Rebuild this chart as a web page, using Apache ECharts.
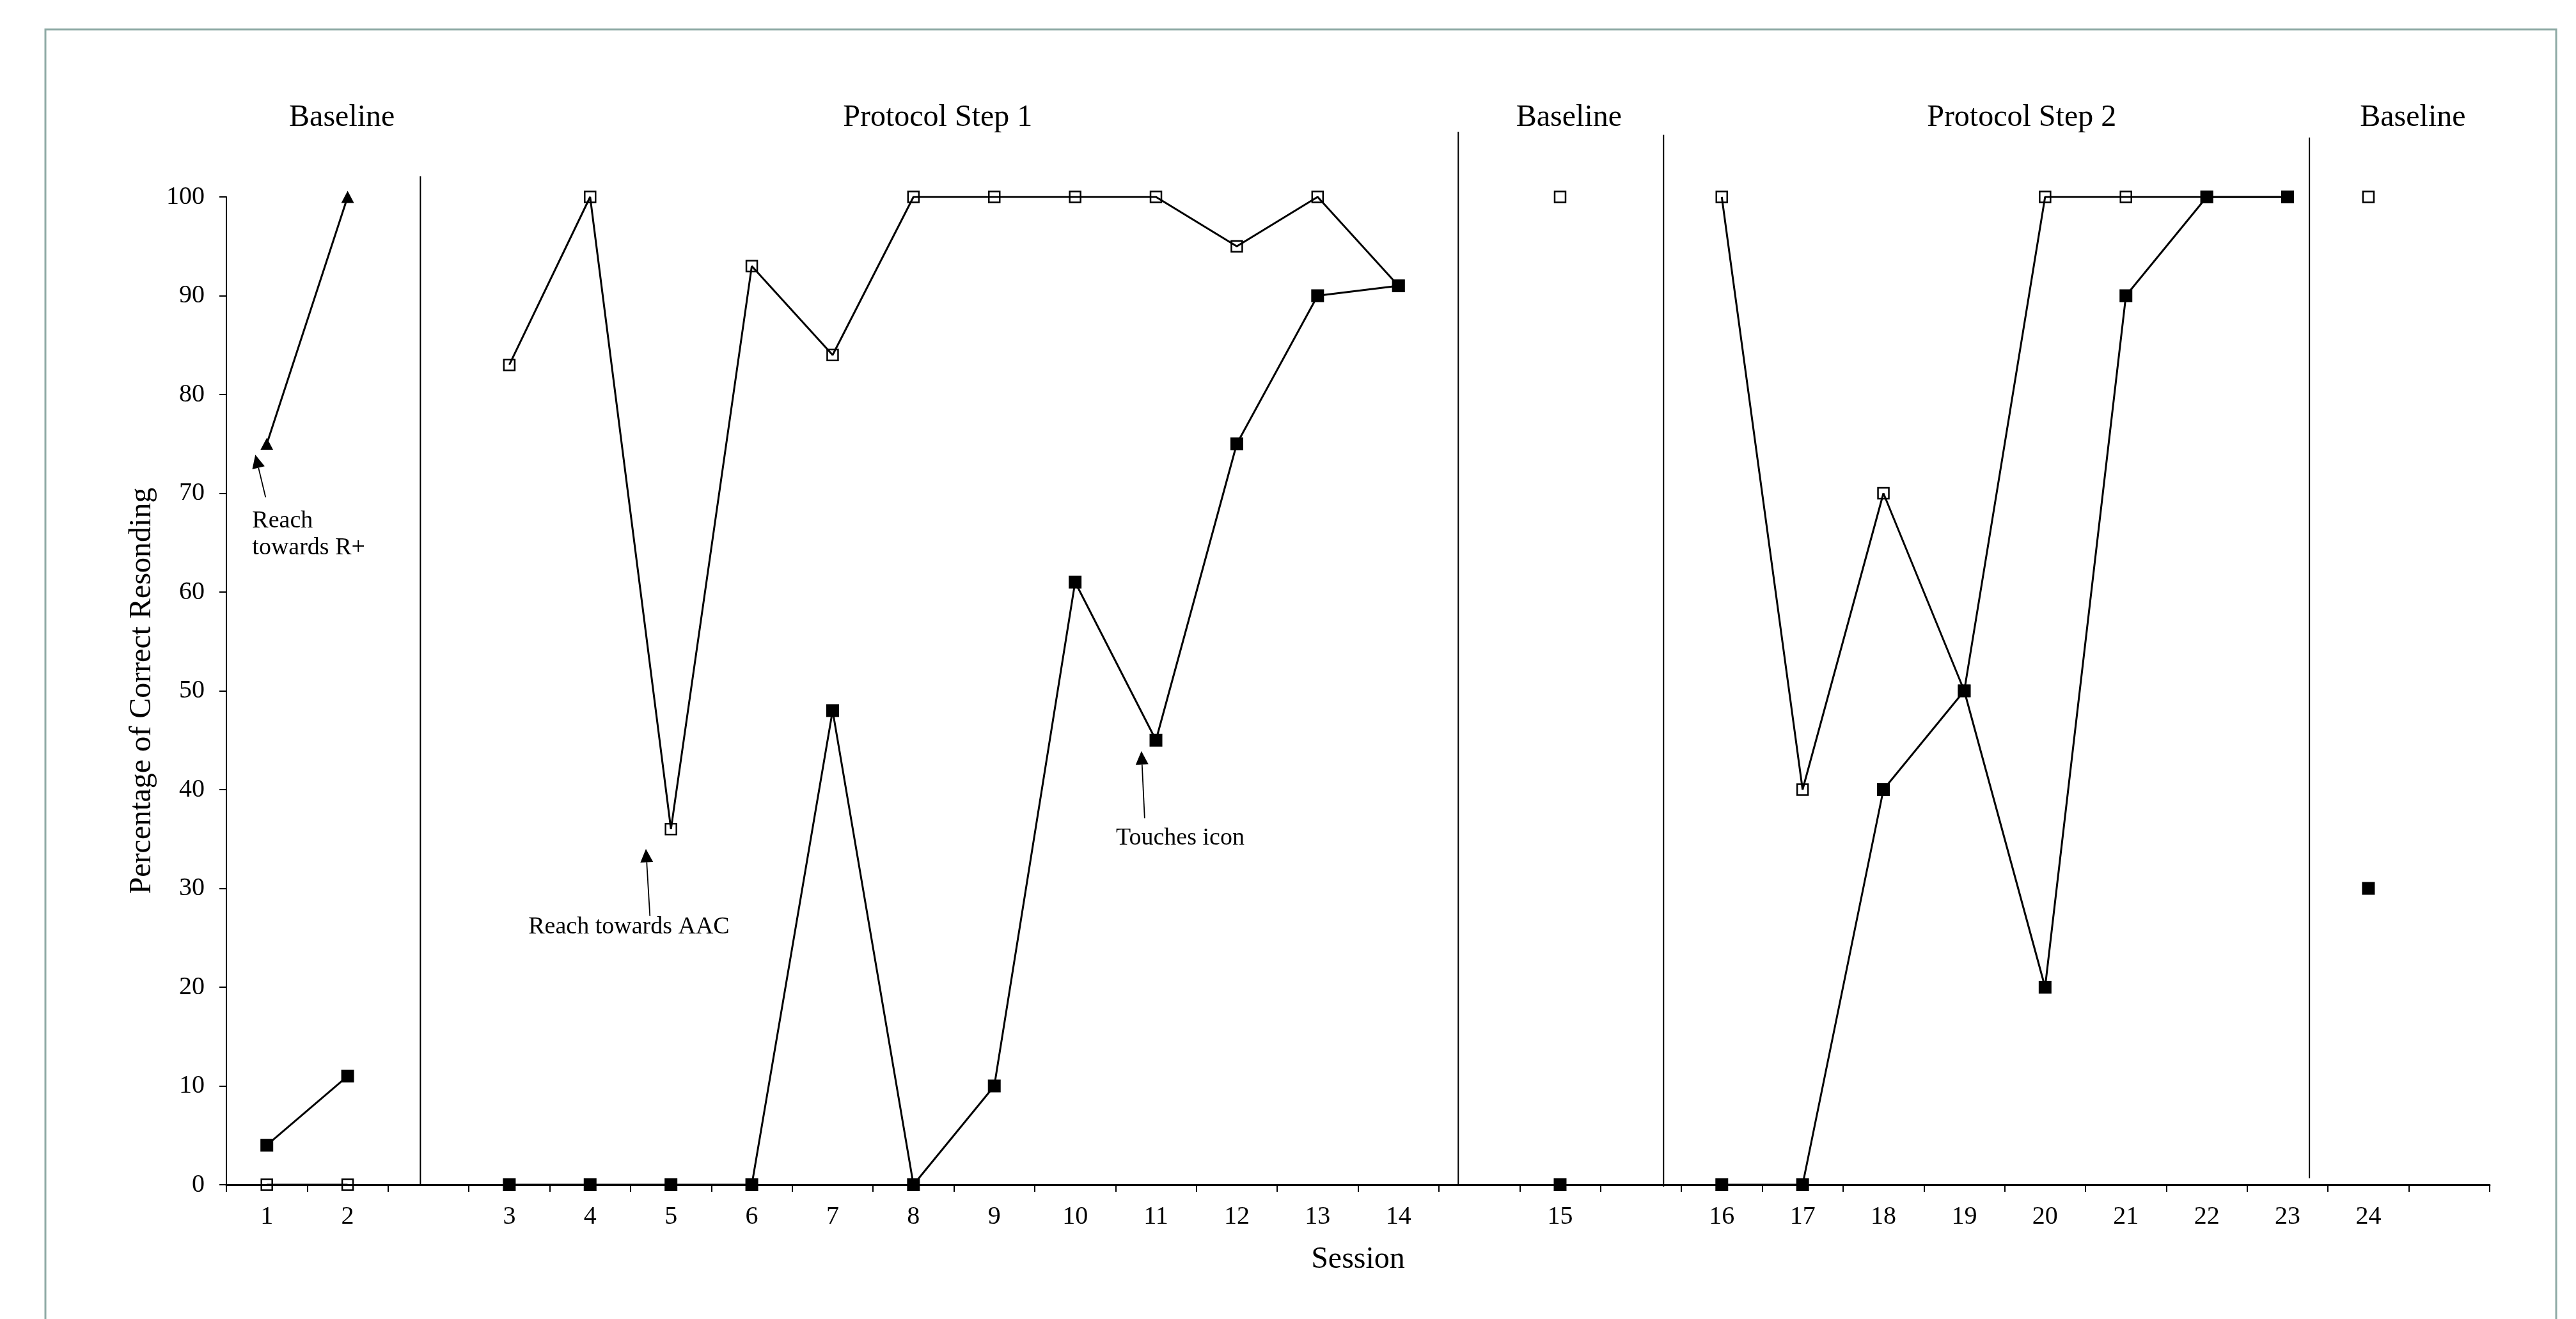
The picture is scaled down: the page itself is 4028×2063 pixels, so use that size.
<!DOCTYPE html>
<html><head><meta charset="utf-8">
<script src="https://cdn.jsdelivr.net/npm/echarts@6/dist/echarts.min.js"></script>
<style>html,body{margin:0;padding:0;background:#fff}#c{width:4028px;height:2063px}</style>
</head><body><div id="c"></div>
<script>
// ---- DATA ----
// x-axis slots (blank slots separate phases)
const slotLabels = ['1','2','','3','4','5','6','7','8','9','10','11','12','13','14','','15','','16','17','18','19','20','21','22','23','24',''];
const sessions            = [1,2,3,4,5,6,7,8,9,10,11,12,13,14,15,16,17,18,19,20,21,22,23,24];
const phaseOfSession      = [0,0,1,1,1,1,1,1,1,1,1,1,1,1,2,3,3,3,3,3,3,3,3,4];
const openSquareValues    = [0,0,83,100,36,93,84,100,100,100,100,95,100,91,100,100,40,70,50,100,100,100,100,100];
const filledSquareValues  = [4,11,0,0,0,0,48,0,10,61,45,75,90,91,0,0,0,40,50,20,90,100,100,30];
const triangleSessions    = [1,2];
const triangleValues      = [75,100];
const phaseTitles = ['Baseline','Protocol Step 1','Baseline','Protocol Step 2','Baseline'];
const annotationTexts = ['Reach\ntowards R+','Reach towards AAC','Touches icon'];

// ---- LAYOUT (axis units on a 0..28 slot scale) ----
const phaseLines = [{x:2.40,top:102.1,bottom:0},{x:15.24,top:106.6,bottom:0},{x:17.78,top:106.3,bottom:-0.2},{x:25.77,top:106.0,bottom:0.65}];
const phaseTitlePos = [[1.43,108.0],[8.80,108.0],[16.61,108.0],[22.21,108.0],[27.05,108.0]];
const annotationGeom = [
  {tip:[0.358,73.9], tail:[0.485,69.6], label:[0.319,65.8], align:'left'},
  {tip:[5.19,34.0], tail:[5.24,27.2], label:[4.98,26.1], align:'center'},
  {tip:[11.32,43.9], tail:[11.36,37.1], label:[11.80,35.1], align:'center'}
];

const FONT = '"Liberation Serif", "Times New Roman", serif';
const slotOf = s => slotLabels.indexOf(String(s));

function phaseSeries(values, kind) {
  const out = [];
  for (let ph = 0; ph < phaseTitles.length; ph++) {
    const data = [];
    sessions.forEach((s, i) => { if (phaseOfSession[i] === ph) data.push([slotOf(s), values[i]]); });
    out.push(kind === 'open' ? {
      type:'line', data, xAxisIndex:0, yAxisIndex:0,
      symbol:'rect', symbolSize:17, showAllSymbol:true,
      itemStyle:{color:'rgba(0,0,0,0)', borderColor:'#000', borderWidth:2.5},
      lineStyle:{color:'#000', width:3}, z:3
    } : {
      type:'line', data, xAxisIndex:0, yAxisIndex:0,
      symbol:'rect', symbolSize:20, showAllSymbol:true,
      itemStyle:{color:'#000', borderWidth:0},
      lineStyle:{color:'#000', width:3}, z:4
    });
  }
  return out;
}

const chart = echarts.init(document.getElementById('c'), null, {renderer:'canvas'});
const option = {
  animation:false,
  backgroundColor:'#fff',
  grid:{left:354, right:135, top:308, bottom:210, containLabel:false},
  xAxis:[{
    type:'category', data:slotLabels, boundaryGap:true,
    name:'Session', nameLocation:'middle', nameGap:93,
    nameTextStyle:{fontFamily:FONT, fontSize:48, color:'#000'},
    axisLine:{lineStyle:{color:'#000', width:3}},
    axisTick:{show:true, interval:0, length:11, lineStyle:{color:'#000', width:2}},
    axisLabel:{interval:0, margin:30, fontFamily:FONT, fontSize:40, color:'#000'},
    splitLine:{show:false}
  },{
    type:'value', min:0, max:28, show:false, gridIndex:0
  }],
  yAxis:[{
    type:'value', min:0, max:100, interval:10,
    name:'Percentage of Correct Resonding', nameLocation:'middle', nameGap:108, nameRotate:90,
    nameTextStyle:{fontFamily:FONT, fontSize:48, color:'#000'},
    axisLine:{show:true, lineStyle:{color:'#000', width:2}},
    axisTick:{show:true, length:11, lineStyle:{color:'#000', width:2}},
    axisLabel:{margin:34, fontFamily:FONT, fontSize:40, color:'#000'},
    splitLine:{show:false}
  }],
  series:[].concat(
    phaseSeries(openSquareValues, 'open'),
    phaseSeries(filledSquareValues, 'filled'),
    [{type:'line', data:triangleSessions.map((s,i)=>[slotOf(s), triangleValues[i]]), xAxisIndex:0, yAxisIndex:0,
      symbol:'triangle', symbolSize:[20,19], showAllSymbol:true,
      itemStyle:{color:'#000', borderWidth:0}, lineStyle:{color:'#000', width:3}, z:4},
     {type:'line', data:[], xAxisIndex:1, yAxisIndex:0, silent:true}]
  )
};
chart.setOption(option);

const P = (x,y) => chart.convertToPixel({xAxisIndex:1, yAxisIndex:0}, [x,y]);
const g = [];
g.push({type:'rect', silent:true, shape:{x:71,y:46,width:3926,height:2100}, style:{fill:'none', stroke:'#8FABA6', lineWidth:3}});
phaseLines.forEach(pl => {
  const a = P(pl.x, pl.top), b = P(pl.x, pl.bottom);
  g.push({type:'line', silent:true, shape:{x1:a[0],y1:a[1],x2:b[0],y2:b[1]}, style:{stroke:'#000', lineWidth:2}});
});
phaseTitles.forEach((t,i) => {
  const p = P(phaseTitlePos[i][0], phaseTitlePos[i][1]);
  g.push({type:'text', silent:true, x:p[0], y:p[1], style:{text:t, fontFamily:FONT, fontSize:48, fill:'#000', align:'center', verticalAlign:'middle'}});
});
annotationGeom.forEach((a,i) => {
  const tip = P(a.tip[0], a.tip[1]), tail = P(a.tail[0], a.tail[1]);
  let dx = tip[0]-tail[0], dy = tip[1]-tail[1];
  const L = Math.hypot(dx,dy); dx/=L; dy/=L;
  const hl = 21, hw = 10;
  const base = [tip[0]-dx*hl, tip[1]-dy*hl];
  const nx = -dy, ny = dx;
  g.push({type:'line', silent:true, shape:{x1:tail[0],y1:tail[1],x2:base[0],y2:base[1]}, style:{stroke:'#000', lineWidth:1.8}});
  g.push({type:'polygon', silent:true, shape:{points:[tip,[base[0]+nx*hw, base[1]+ny*hw],[base[0]-nx*hw, base[1]-ny*hw]]}, style:{fill:'#000'}});
  const lp = P(a.label[0], a.label[1]);
  g.push({type:'text', silent:true, x:lp[0], y:lp[1], style:{text:annotationTexts[i], fontFamily:FONT, fontSize:38, lineHeight:42, fill:'#000', align:a.align, verticalAlign:'middle'}});
});
chart.setOption({graphic:g});
</script>
</body></html>
